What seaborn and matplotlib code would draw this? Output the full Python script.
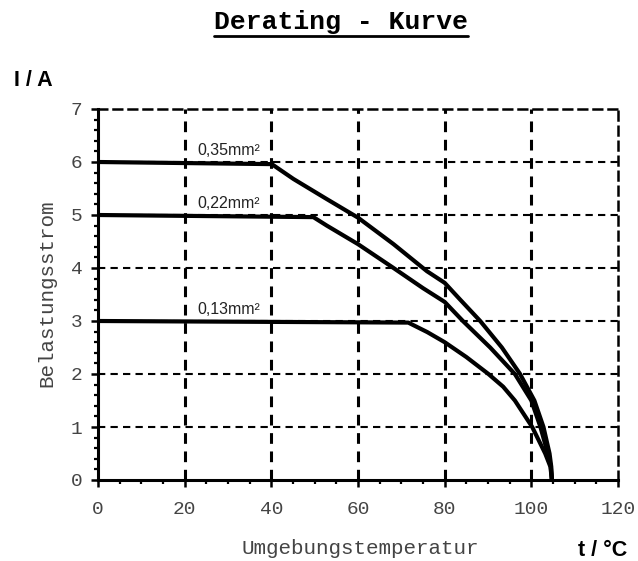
import matplotlib
matplotlib.use("Agg")
import matplotlib.pyplot as plt
from matplotlib.lines import Line2D
import seaborn as sns
import pandas as pd

# ---- data ----
t_035 = [0, 40.1, 45.1, 52.8, 60, 68.2, 75.9, 80, 83.5, 88.2, 93.2, 97.4, 100.7, 102.8, 104.2, 104.6, 104.75]
i_035 = [6.0, 5.96, 5.68, 5.30, 4.95, 4.45, 3.94, 3.72, 3.41, 3.0, 2.5, 2.0, 1.5, 1.0, 0.5, 0.25, 0.0]

t_022 = [0, 49.7, 52.8, 60, 68.2, 75.0, 80, 84.2, 90.5, 96.2, 100.0, 102.1, 103.8, 104.5, 104.75]
i_022 = [5.0, 4.96, 4.80, 4.45, 4.0, 3.62, 3.36, 3.0, 2.5, 2.0, 1.5, 1.0, 0.5, 0.25, 0.0]

t_013 = [0, 71.6, 76.0, 80, 85.0, 90.1, 93.5, 96.2, 100.2, 103.2, 104.4, 104.75]
i_013 = [3.0, 2.97, 2.79, 2.6, 2.32, 2.0, 1.76, 1.5, 1.0, 0.5, 0.25, 0.0]

labels = ["0,35mm²", "0,22mm²", "0,13mm²"]
label_t = [23, 23, 23]
label_i = [6.0, 5.0, 3.0]

x_ticks = [0, 20, 40, 60, 80, 100, 120]
y_ticks = [0, 1, 2, 3, 4, 5, 6, 7]

frames = []
for lab, tt, ii in zip(labels, [t_035, t_022, t_013], [i_035, i_022, i_013]):
    frames.append(pd.DataFrame({"t": tt, "I": ii, "Querschnitt": lab}))
df = pd.concat(frames, ignore_index=True)

# ---- style ----
sns.set_style("white")
plt.rcParams["font.family"] = ["Liberation Mono", "DejaVu Sans"]

fig = plt.figure(figsize=(6.38, 5.61), dpi=100)
ax = fig.add_axes([98 / 638, 1 - 480 / 561, (618 - 98) / 638, (480 - 109) / 561])

dash = (0, (3.5, 2.5))
ax.set_xlim(0, 120)
ax.set_ylim(0, 7)
ax.set_xticks(x_ticks)
ax.set_yticks(y_ticks)
ax.set_xticks(range(0, 121, 5), minor=True)
ax.set_yticks([k / 5 for k in range(0, 36)], minor=True)

for xv in x_ticks[1:-1]:
    ax.axvline(xv, color="black", lw=2.2, ls=dash, zorder=1)
for yv in y_ticks[1:-1]:
    ax.axhline(yv, color="black", lw=1.5, ls=dash, zorder=1)

sns.lineplot(data=df, x="t", y="I", hue="Querschnitt",
             palette={l: "black" for l in labels}, estimator=None, sort=False,
             legend=False, lw=3.0, ax=ax, zorder=3,
             solid_joinstyle="round", solid_capstyle="butt")

for lab, tx, iy in zip(labels, label_t, label_i):
    ax.text(tx, iy + 0.07, lab, fontsize=11.5, family="Liberation Sans",
            color="#222222", ha="left", va="bottom", zorder=4)

for s in ["left", "bottom"]:
    ax.spines[s].set_color("black")
    ax.spines[s].set_linewidth(2.2)
for s in ["top", "right"]:
    ax.spines[s].set_color("black")
    ax.spines[s].set_linewidth(1.8)
    ax.spines[s].set_linestyle(dash)

ax.tick_params(axis="both", which="major", direction="out", length=5, width=1.8,
               color="black", labelsize=14, labelcolor="#444444", pad=6)
ax.tick_params(axis="both", which="minor", direction="out", length=3, width=1.6,
               color="black")
ax.tick_params(axis="x", which="both", top=False, bottom=True)
ax.tick_params(axis="y", which="both", right=False, left=True)
ax.tick_params(axis="x", which="major", pad=10)

ax.set_xlabel("")
ax.set_ylabel("")
fig.text(360 / 638, 1 - 548 / 561, "Umgebungstemperatur", fontsize=15,
         color="#444444", ha="center", va="center")
fig.text(47 / 638, 1 - 293 / 561, "Belastungsstrom", fontsize=15,
         color="#444444", ha="center", va="center", rotation=90)

fig.text(14 / 638, 1 - 80 / 561, "I / A", fontsize=15.5, fontweight="bold",
         family="Liberation Sans", ha="left", va="center", color="black")
fig.text(578 / 638, 1 - 551 / 561, "t / °C", fontsize=15.5, fontweight="bold",
         family="Liberation Sans", ha="left", va="center", color="black")

title = fig.text(341 / 638, 1 - 22 / 561, "Derating - Kurve", fontsize=19,
                 fontweight="bold", ha="center", va="center", color="black")
fig.canvas.draw()
bb = title.get_window_extent(renderer=fig.canvas.get_renderer())
inv = fig.transFigure.inverted()
(x0, y0), (x1, y1) = inv.transform([(bb.x0, bb.y0), (bb.x1, bb.y1)])
fig.add_artist(Line2D([x0, x1], [1 - 36 / 561, 1 - 36 / 561],
                      transform=fig.transFigure, color="black", lw=2))

fig.savefig("out.png", dpi=100, facecolor="white")
